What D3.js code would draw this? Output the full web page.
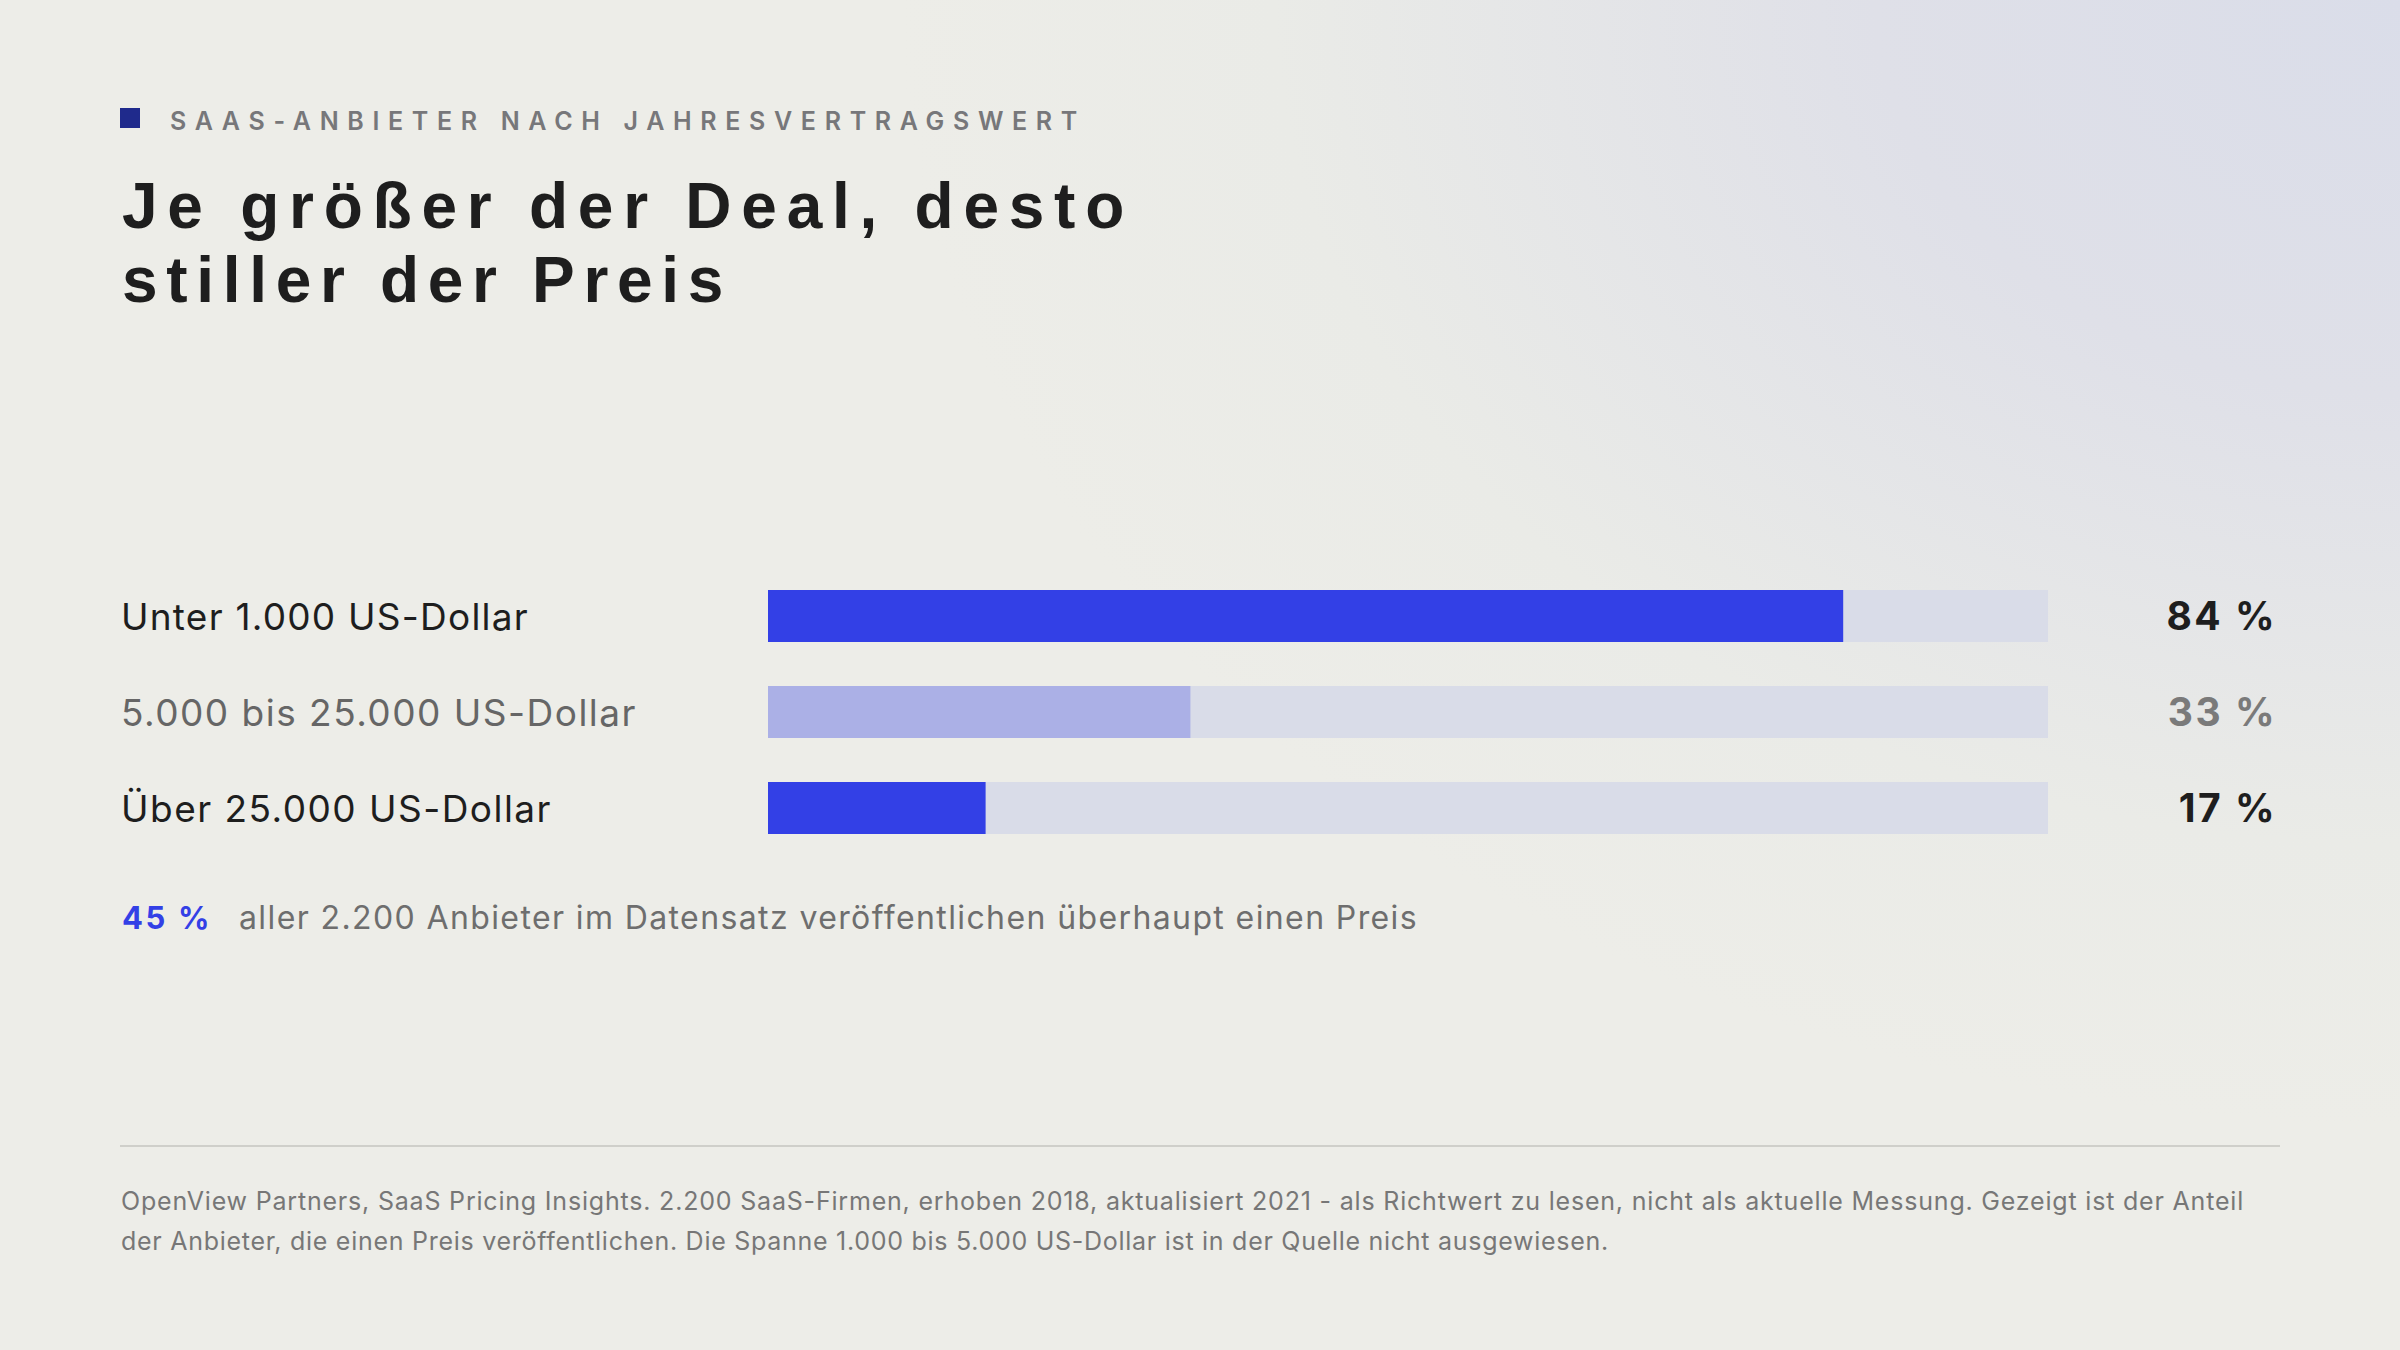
<!DOCTYPE html>
<html><head><meta charset="utf-8">
<script src="https://cdn.jsdelivr.net/npm/d3@7"></script>
<style>
html,body{margin:0;padding:0;background:#edede8;}
svg{display:block;}
</style></head>
<body>
<script>
const categories = ["Unter 1.000 US-Dollar", "5.000 bis 25.000 US-Dollar", "Über 25.000 US-Dollar"];
const values = [84, 33, 17];
const highlight = [true, false, true];
const eyebrow = "SAAS-ANBIETER NACH JAHRESVERTRAGSWERT";
const titleLines = ["Je größer der Deal, desto", "stiller der Preis"];
const noteValue = "45 %";
const noteText = "aller 2.200 Anbieter im Datensatz veröffentlichen überhaupt einen Preis";
const sourceLines = [
  "OpenView Partners, SaaS Pricing Insights. 2.200 SaaS-Firmen, erhoben 2018, aktualisiert 2021 - als Richtwert zu lesen, nicht als aktuelle Messung. Gezeigt ist der Anteil",
  "der Anbieter, die einen Preis veröffentlichen. Die Spanne 1.000 bis 5.000 US-Dollar ist in der Quelle nicht ausgewiesen."
];

const W = 2400, H = 1350;
const FONT = "Inter, 'Noto Sans', sans-serif";
const TFONT = "'Liberation Sans', Arial, sans-serif";
const svg = d3.select("body").append("svg").attr("width", W).attr("height", H);
const defs = svg.append("defs");
const rg = defs.append("radialGradient").attr("id","bg")
  .attr("gradientUnits","userSpaceOnUse").attr("cx",2400).attr("cy",0).attr("r",1500)
  .attr("gradientTransform","translate(2400,0) scale(1,0.75) translate(-2400,0)");
rg.append("stop").attr("offset",0).attr("stop-color","#dadde9");
rg.append("stop").attr("offset",0.35).attr("stop-color","#dfe0e8");
rg.append("stop").attr("offset",0.75).attr("stop-color","#eaebe7");
rg.append("stop").attr("offset",1).attr("stop-color","#edede8");
svg.append("rect").attr("width",W).attr("height",H).attr("fill","#edede8");
svg.append("rect").attr("width",W).attr("height",H).attr("fill","url(#bg)");

// fit a text/tspan element to a target width by adjusting letter-spacing
function fit(sel, target){
  sel.each(function(d,i){
    const t = typeof target === "function" ? target(d,i) : target;
    const n = this.getNumberOfChars();
    const w = this.getComputedTextLength();
    const cur = parseFloat(d3.select(this).attr("letter-spacing")||0);
    const ls = cur + (t - w) / Math.max(1, n);
    d3.select(this).attr("letter-spacing", ls + "px");
  });
}

// eyebrow
svg.append("rect").attr("x",120).attr("y",108).attr("width",20).attr("height",20).attr("fill","#1f2a8c");
svg.append("text").attr("x",170).attr("y",130).text(eyebrow)
  .attr("font-family",FONT).attr("font-weight",600).attr("font-size",25)
  .attr("letter-spacing","0px").attr("fill","#77777a").call(fit, 916);

// title (one text element, one tspan per line)
const titleW = [1012, 610];
const title = svg.append("text").attr("font-family",TFONT).attr("font-weight",700)
  .attr("font-size",64).attr("fill","#1e1e1e");
title.selectAll("tspan").data(titleLines).enter().append("tspan")
  .attr("x",122).attr("y",(d,i)=>228+i*74).text(d=>d)
  .call(fit, (d,i)=>titleW[i]);

// bars
const x = d3.scaleLinear().domain([0,100]).range([768,2048]);
const bh = 52;
const rowY = i => 590 + i*96;
const labelW = [408, 516, 431];
const rows = svg.selectAll("g.row").data(categories.map((c,i)=>({c, v:values[i], h:highlight[i]})))
  .enter().append("g").attr("class","row");
rows.append("rect").attr("x",x(0)).attr("y",(d,i)=>rowY(i)).attr("width",x(100)-x(0)).attr("height",bh).attr("fill","#d9dce8");
rows.append("rect").attr("x",x(0)).attr("y",(d,i)=>rowY(i)).attr("width",d=>x(d.v)-x(0)).attr("height",bh)
  .attr("fill",d=>d.h?"#3340e6":"#abb0e6");
rows.append("text").attr("x",121).attr("y",(d,i)=>rowY(i)+bh/2+13.5).text(d=>d.c)
  .attr("font-family",FONT).attr("font-size",37).attr("fill",d=>d.h?"#1e1e1e":"#666666")
  .call(fit, (d,i)=>labelW[i]);
rows.append("text").attr("x",2277).attr("y",(d,i)=>rowY(i)+bh/2+14).attr("text-anchor","end")
  .text(d=>d.v+" %")
  .attr("font-family",FONT).attr("font-weight",700).attr("font-size",39).attr("letter-spacing","2.5px")
  .attr("fill",d=>d.h?"#1e1e1e":"#7a7a7a");

// note
svg.append("text").attr("x",122).attr("y",929).text(noteValue)
  .attr("font-family",FONT).attr("font-weight",700).attr("font-size",31).attr("fill","#3340e6").call(fit, 90);
svg.append("text").attr("x",239).attr("y",929).text(noteText)
  .attr("font-family",FONT).attr("font-size",32).attr("fill","#6e6e6e").call(fit, 1179);

// rule
svg.append("line").attr("x1",120).attr("x2",2280).attr("y1",1146).attr("y2",1146).attr("stroke","#cfcfca").attr("stroke-width",2);

// source
const srcW = [2123, 1488];
const src = svg.append("text").attr("font-family",FONT).attr("font-size",25).attr("fill","#777777");
src.selectAll("tspan").data(sourceLines).enter().append("tspan")
  .attr("x",121).attr("y",(d,i)=>1210+i*40).text(d=>d)
  .call(fit, (d,i)=>srcW[i]);
</script>
</body></html>
